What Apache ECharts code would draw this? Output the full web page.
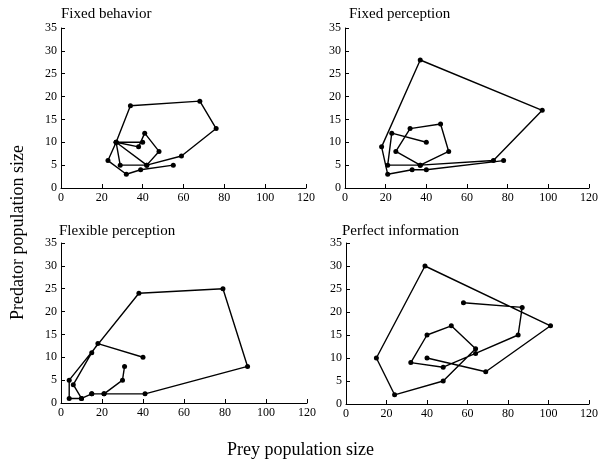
<!DOCTYPE html>
<html>
<head>
<meta charset="utf-8">
<script src="https://cdn.jsdelivr.net/npm/echarts@6/dist/echarts.min.js"></script>
<style>
  html, body { margin: 0; padding: 0; background: #fff; }
  #chart { width: 601px; height: 462px; }
</style>
</head>
<body>
<div id="chart"></div>
<script>
// Phase-plane trajectories: [prey, predator] per time step
const panelTitles = ['Fixed behavior', 'Fixed perception', 'Flexible perception', 'Perfect information'];

const fixedBehavior = [
  [40, 10], [27, 10], [29, 5], [42, 5], [48, 8], [41, 12], [38, 9], [27, 10],
  [42, 5], [59, 7], [76, 13], [68, 19], [34, 18], [27, 10], [23, 6], [32, 3],
  [39, 4], [55, 5]
];

const fixedPerception = [
  [40, 10], [23, 12], [21, 5], [37, 5], [51, 8], [47, 14], [32, 13], [25, 8],
  [37, 5], [73, 6], [97, 17], [37, 28], [18, 9], [21, 3], [33, 4], [40, 4],
  [78, 6]
];

const flexiblePerception = [
  [40, 10], [18, 13], [15, 11], [6, 4], [10, 1], [15, 2], [21, 2], [41, 2],
  [91, 8], [79, 25], [38, 24], [4, 5], [4, 1], [10, 1], [15, 2], [21, 2],
  [30, 5], [31, 8]
];

const perfectInformation = [
  [40, 10], [69, 7], [101, 17], [39, 30], [15, 10], [24, 2], [48, 5], [64, 12],
  [52, 17], [40, 15], [32, 9], [48, 8], [64, 11], [85, 15], [87, 21], [58, 22]
];

const xTickLabels = [0, 20, 40, 60, 80, 100, 120];
const yTickLabels = [0, 5, 10, 15, 20, 25, 30, 35];

const yAxisName = 'Predator population size';
const xAxisName = 'Prey population size';

const trajectories = [fixedBehavior, fixedPerception, flexiblePerception, perfectInformation];

// plotting areas of the 2 x 2 panels
const grids = [
  { left: 61,  top: 28,  width: 245, height: 160 },
  { left: 345, top: 28,  width: 247, height: 160 },
  { left: 61,  top: 243, width: 246, height: 160 },
  { left: 346, top: 243, width: 246, height: 161 }
];
const titlePos = [
  { left: 61,  top: 7 },
  { left: 349, top: 7 },
  { left: 59,  top: 224 },
  { left: 342, top: 224 }
];

const serif = 'Liberation Serif';
const ink = '#000';

const xMin = xTickLabels[0], xMax = xTickLabels[xTickLabels.length - 1];
const xStep = xTickLabels[1] - xTickLabels[0];
const yMin = yTickLabels[0], yMax = yTickLabels[yTickLabels.length - 1];
const yStep = yTickLabels[1] - yTickLabels[0];

const axisCommon = {
  type: 'value',
  axisLine: { show: true, onZero: false, lineStyle: { color: ink, width: 1 } },
  axisTick: { show: true, inside: true, length: 4, lineStyle: { color: ink, width: 1 } },
  axisLabel: { color: ink, fontFamily: serif, fontSize: 12, margin: 4 },
  splitLine: { show: false }
};

const option = {
  animation: false,
  backgroundColor: '#fff',
  title: panelTitles.map((t, i) => ({
    text: t,
    left: titlePos[i].left,
    top: titlePos[i].top,
    padding: 0,
    textStyle: { fontFamily: serif, fontSize: 15, fontWeight: 'normal', color: ink }
  })),
  grid: grids.map(g => Object.assign({ containLabel: false }, g)),
  xAxis: grids.map((g, i) => Object.assign({}, axisCommon, {
    gridIndex: i, min: xMin, max: xMax, interval: xStep
  })),
  yAxis: grids.map((g, i) => Object.assign({}, axisCommon, {
    gridIndex: i, min: yMin, max: yMax, interval: yStep
  })),
  series: trajectories.map((data, i) => ({
    type: 'line',
    xAxisIndex: i,
    yAxisIndex: i,
    data: data,
    symbol: 'circle',
    symbolSize: 5,
    showAllSymbol: true,
    lineStyle: { color: ink, width: 1.4 },
    itemStyle: { color: ink },
    emphasis: { disabled: true },
    z: 3
  })),
  graphic: [
    {
      type: 'text',
      left: 'center',
      top: 441,
      style: { text: xAxisName, fontFamily: serif, fontSize: 18, fill: ink }
    },
    {
      type: 'text',
      x: 9,
      y: 320,
      rotation: Math.PI / 2,
      style: { text: yAxisName, fontFamily: serif, fontSize: 18, fill: ink }
    }
  ]
};

const chart = echarts.init(document.getElementById('chart'), null, { renderer: 'canvas' });
chart.setOption(option);
</script>
</body>
</html>
